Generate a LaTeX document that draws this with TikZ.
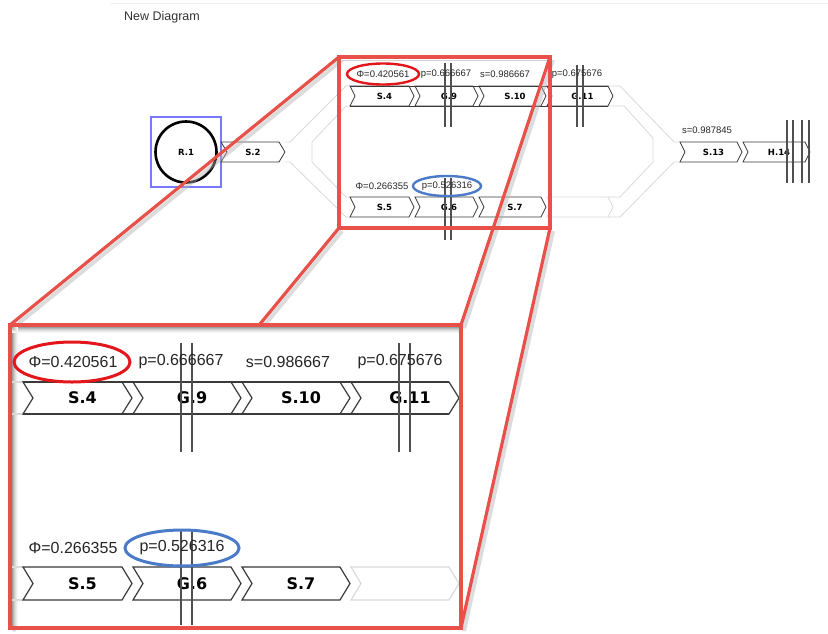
\documentclass[tikz,border=0pt]{standalone}
\usepackage{fontspec}
\setmainfont{Liberation Sans}
\newfontfamily\dvs{DejaVu Sans}
\definecolor{boxred}{HTML}{E8504A}
\definecolor{ellred}{HTML}{E3161B}
\definecolor{ellblue}{HTML}{4A7AC8}
\definecolor{chevc}{HTML}{3A3A3A}
\definecolor{faint}{HTML}{DADADA}
\definecolor{markc}{HTML}{505050}
\definecolor{sqblue}{HTML}{4040FF}
\definecolor{txt}{HTML}{262626}
\newcommand{\chev}[7]{%
  % #1 name, #2 x left, #3 x tip, #4 y top, #5 y bottom, #6 depth, #7 style
  \draw[#7] (#2,#4) -- ({#3-#6},#4) -- (#3,{(#4+#5)/2}) -- ({#3-#6},#5) -- (#2,#5) -- ({#2+#6},{(#4+#5)/2}) -- cycle;
  \coordinate (#1) at ({(#2+#3)/2+#6/2},{(#4+#5)/2});
}
\begin{document}
\begin{tikzpicture}[x=1pt,y=-1pt,
  chevS/.style={draw=chevc, line width=0.8pt, fill=white, line join=miter},
  chevB/.style={draw=chevc, line width=1.2pt, fill=white, line join=miter},
  ghostS/.style={draw=faint, line width=0.8pt},
  ghostB/.style={draw=faint, line width=1.2pt},
  markS/.style={draw=markc, line width=1.1pt},
  markB/.style={draw=markc, line width=1.8pt},
  numS/.style={font=\fontsize{9.5}{11}\selectfont, text=txt, inner sep=0pt},
  numB/.style={font=\fontsize{16}{19}\selectfont, text=txt, inner sep=0pt},
  chS/.style={font=\dvs\bfseries\fontsize{8.5}{10}\selectfont, text=black, inner sep=0pt},
  chB/.style={font=\dvs\bfseries\fontsize{16}{19}\selectfont, text=black, inner sep=0pt},
  zoomline/.style={draw=boxred, line width=3.2pt},
  zshadow/.style={draw=black!30, line width=4pt, opacity=0.45},
  redell/.style={draw=ellred, line width=2.4pt},
  blueell/.style={draw=ellblue, line width=2.4pt}
]
\useasboundingbox (0,0) rectangle (828,633);
\fill[white] (0,0) rectangle (828,633);
\draw[black!6, line width=0.6pt] (110,3) -- (828,3);

% title
\node[font=\fontsize{12.5}{15}\selectfont, text=black!80, inner sep=0pt] (title) at (162,17) {New Diagram};

% ---------------- small diagram ----------------
% grey ribbons
\draw[ghostS] (285,142) -- (290,142) -- (346,86) -- (350,86);
\draw[ghostS] (350,106) -- (346,106) -- (312,142) -- (312,162) -- (346,197) -- (350,197);
\draw[ghostS] (285,162) -- (290,162) -- (346,217) -- (350,217);
\draw[ghostS] (608,86) -- (620,86) -- (674,142) -- (680,142);
\draw[ghostS] (608,106) -- (624,106) -- (653,138) -- (653,162) -- (620,197) -- (608,197);
\draw[ghostS] (608,217) -- (620,217) -- (674,162) -- (680,162);

% R.1
\draw[sqblue!70, line width=1.1pt] (151,117) rectangle (221,187);
\draw[black, line width=2.6pt] (186,152) circle (30.5);
\node[chS] (r1) at (186,152) {R.1};

% S.2
\chev{s2}{221}{285}{142}{162}{6}{chevS}
\node[chS] (ts2) at (253,152) {S.2};

% top track
\chev{s4}{350}{414}{86}{106}{5}{chevS}
\chev{g9}{415}{478}{86}{106}{5}{chevS}
\chev{s10}{479}{546}{86}{106}{5}{chevS}
\chev{g11}{547}{613}{86}{106}{5}{chevS}
\draw[chevc, line width=0.8pt] (350,86) -- (608,86) (350,106) -- (608,106);
\node[chS] (ts4) at (s4) {S.4};
\node[chS] (tg9) at (g9) {G.9};
\node[chS] (ts10) at (s10) {S.10};
\node[chS] (tg11) at (g11) {G.11};

% bottom track
\chev{gr}{547}{613}{197}{217}{5}{ghostS}
\chev{s5}{350}{414}{197}{217}{5}{chevS}
\chev{g6}{415}{478}{197}{217}{5}{chevS}
\chev{s7}{479}{546}{197}{217}{5}{chevS}
\node[chS] (ts5) at (s5) {S.5};
\node[chS] (tg6) at (g6) {G.6};
\node[chS] (ts7) at (s7) {S.7};

% right track
\chev{s13}{680}{742}{142}{162}{5}{chevS}
\chev{h14}{743}{810}{142}{162}{5}{chevS}
\node[chS] (ts13) at (s13) {S.13};
\node[chS] (th14) at (h14) {H.14};

% markers (small)
\draw[markS] (445,63) -- (445,127) (451,63) -- (451,127);
\draw[markS] (577,65) -- (577,127) (583,65) -- (583,127);
\draw[markS] (445,178) -- (445,240) (451,178) -- (451,240);
\draw[markS] (787,120) -- (787,183) (793,120) -- (793,183) (802,120) -- (802,183) (809,120) -- (809,183);

% small labels
\node[numS] (l1) at (383,74) {Φ=0.420561};
\node[numS] (l2) at (446,74) {p=0.666667};
\node[numS] (l3) at (505,74) {s=0.986667};
\node[numS] (l4) at (577,74) {p=0.675676};
\node[numS] (l5) at (382,186) {Φ=0.266355};
\node[numS] (l6) at (447,186) {p=0.526316};
\node[numS] (l7) at (707,130) {s=0.987845};

% small ellipses
\draw[redell] (383,74) ellipse (36 and 10.5);
\draw[blueell] (447,186) ellipse (34 and 10);

% ---------------- zoom lines ----------------
\coordinate (stl) at (339,57);
\coordinate (str) at (550,57);
\coordinate (sbl) at (339,228);
\coordinate (sbr) at (550,228);
\coordinate (btl) at (10,325);
\coordinate (btr) at (461,325);
\coordinate (bbl) at (10,628);
\coordinate (bbr) at (461,628);

\begin{scope}[transform canvas={shift={(3pt,-3pt)}}]
\draw[zshadow] (stl) -- (btl) (str) -- (btr) (sbl) -- (bbl) (sbr) -- (bbr);
\end{scope}
\draw[zoomline] (stl) -- (btl);
\draw[zoomline] (str) -- (btr);
\draw[zoomline] (sbl) -- (bbl);
\draw[zoomline] (sbr) -- (bbr);

% small box
\draw[black!18, line width=1.5pt] (342,60.5) -- (547,60.5);
\draw[boxred, line width=3.2pt] (stl) rectangle (sbr);

% ---------------- big panel ----------------
\fill[white] (btl) rectangle (bbr);
\foreach \i/\c in {1/38,2/28,3/20,4/13,5/8,6/4} {
  \draw[black!\c, line width=1pt] (12,{326+\i}) -- (459,{326+\i});
  \draw[black!\c, line width=1pt] ({11+\i},327) -- ({11+\i},626);
}
% faint stubs
\draw[ghostB] (12,382) -- (23,382) (12,414) -- (23,414) (12,567) -- (23,567) (12,600) -- (23,600);

% top track big
\chev{bs4}{23}{132}{382}{414}{10}{chevB}
\chev{bg9}{133}{241}{382}{414}{10}{chevB}
\chev{bs10}{242}{350}{382}{414}{10}{chevB}
\chev{bg11}{351}{459}{382}{414}{10}{chevB}
\draw[chevc, line width=1.2pt] (23,382) -- (449,382) (23,414) -- (449,414);
\node[chB] (bts4) at (bs4) {S.4};
\node[chB] (btg9) at (bg9) {G.9};
\node[chB] (bts10) at (bs10) {S.10};
\node[chB] (btg11) at (bg11) {G.11};

% bottom track big
\chev{bgr}{351}{459}{567}{600}{10}{ghostB}
\chev{bs5}{23}{132}{567}{600}{10}{chevB}
\chev{bg6}{133}{241}{567}{600}{10}{chevB}
\chev{bs7}{242}{350}{567}{600}{10}{chevB}
\node[chB] (bts5) at (bs5) {S.5};
\node[chB] (btg6) at (bg6) {G.6};
\node[chB] (bts7) at (bs7) {S.7};

% markers big
\draw[markB] (181,343) -- (181,452) (192,343) -- (192,452);
\draw[markB] (399,343) -- (399,452) (410,343) -- (410,452);
\draw[markB] (181,530) -- (181,625) (192,530) -- (192,625);

% big labels
\node[numB] (bl1) at (73,362) {Φ=0.420561};
\node[numB] (bl2) at (181,362) {p=0.666667};
\node[numB] (bl3) at (288,362) {s=0.986667};
\node[numB] (bl4) at (400,362) {p=0.675676};
\node[numB] (bl5) at (73,548) {Φ=0.266355};
\node[numB] (bl6) at (182,548) {p=0.526316};

\draw[redell, line width=3pt] (72,362) ellipse (58 and 20);
\draw[blueell, line width=3pt] (182,548) ellipse (57 and 18);

% big border
\draw[boxred, line width=3.6pt] (btl) rectangle (bbr);
\end{tikzpicture}
\end{document}
